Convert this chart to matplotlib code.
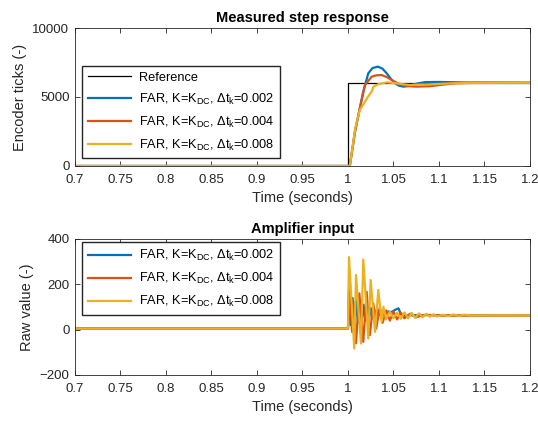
import matplotlib
matplotlib.use('Agg')
import matplotlib.pyplot as plt

plt.rcParams['font.family'] = ['Liberation Sans', 'DejaVu Sans']
plt.rcParams['mathtext.fontset'] = 'custom'
plt.rcParams['mathtext.rm'] = 'Liberation Sans'
plt.rcParams['mathtext.it'] = 'Liberation Sans:italic'

# colours (MATLAB defaults)
c_blue = '#0072BD'
c_red = '#D95319'
c_yel = '#EDB120'
c_ax = '#262626'

# ---- measured step response (encoder ticks) ----
t_ref = [0.7, 1.0, 1.0, 1.2]
v_ref = [0, 0, 6000, 6000]

t_s1 = [0.7, 1.002, 1.0077, 1.013, 1.0168, 1.0223, 1.027, 1.033, 1.038, 1.0425,
        1.047, 1.0516, 1.056, 1.061, 1.066, 1.0715, 1.078, 1.085, 1.1, 1.115,
        1.13, 1.2]
v_s1 = [0, 0, 2490, 4180, 5390, 6715, 7100, 7200, 7050, 6715,
        6330, 6000, 5820, 5750, 5790, 5900, 6000, 6080, 6090, 6070,
        6050, 6030]

t_s2 = [0.7, 1.002, 1.0077, 1.013, 1.0187, 1.026, 1.031, 1.037, 1.043, 1.048,
        1.054, 1.059, 1.067, 1.0755, 1.09, 1.105, 1.119, 1.14, 1.2]
v_s2 = [0, 0, 2490, 4180, 5870, 6470, 6570, 6590, 6430, 6230,
        6020, 5870, 5780, 5750, 5780, 5900, 6000, 6030, 6030]

t_s3 = [0.7, 1.002, 1.008, 1.013, 1.0187, 1.022, 1.026, 1.028, 1.033, 1.0425,
        1.052, 1.06, 1.068, 1.08, 1.09, 1.11, 1.13, 1.2]
v_s3 = [0, 0, 2750, 4060, 4660, 5020, 5390, 5750, 5920, 6060,
        6000, 5930, 5870, 5900, 5920, 5980, 6020, 6030]

# ---- amplifier input (raw value) ----
t_a1 = [0.7, 1.0, 1.001, 1.003, 1.005, 1.007, 1.009, 1.011, 1.013, 1.015,
        1.017, 1.019, 1.021, 1.023, 1.025, 1.027, 1.029, 1.031, 1.033, 1.036,
        1.040, 1.044, 1.048, 1.052, 1.0555, 1.058, 1.062, 1.07, 1.2]
v_a1 = [5, 5, 180, 20, 140, 20, 130, 30, 120, 35,
        110, 40, 100, 45, 95, 50, 90, 55, 85, 60,
        70, 80, 78, 88, 94, 70, 60, 64, 63]

t_a2 = [0.7, 1.0, 1.002, 1.0045, 1.0065, 1.0088, 1.0125, 1.0168, 1.0205, 1.024,
        1.0278, 1.031, 1.035, 1.038, 1.042, 1.046, 1.050, 1.054, 1.058, 1.062,
        1.068, 1.075, 1.085, 1.1, 1.2]
v_a2 = [5, 5, 150, -10, 120, -60, 160, -54, 167, -24,
        116, 5, 100, 30, 85, 40, 80, 45, 75, 50,
        70, 55, 66, 62, 63]

t_a3 = [0.7, 1.0, 1.0011, 1.0069, 1.0088, 1.0143, 1.0168, 1.0223, 1.0249, 1.0297,
        1.0333, 1.037, 1.039, 1.042, 1.046, 1.050, 1.054, 1.058, 1.062, 1.066,
        1.070, 1.074, 1.078, 1.082, 1.086, 1.090, 1.094, 1.098, 1.104, 1.110,
        1.116, 1.122, 1.128, 1.135, 1.2]
v_a3 = [5, 5, 320, -83, 241, -61, 310, -39, 219, -10,
        175, 35, 101, 45, 80, 50, 75, 48, 76, 50,
        74, 52, 72, 55, 70, 57, 68, 58, 66, 60,
        67, 61, 66, 63, 63]

labels = [r'FAR, K=K$_{\rm DC}$, $\Delta$t$_{\rm k}$=0.002',
          r'FAR, K=K$_{\rm DC}$, $\Delta$t$_{\rm k}$=0.004',
          r'FAR, K=K$_{\rm DC}$, $\Delta$t$_{\rm k}$=0.008']

xticks = [0.7, 0.75, 0.8, 0.85, 0.9, 0.95, 1.0, 1.05, 1.1, 1.15, 1.2]
xticklabels = ['0.7', '0.75', '0.8', '0.85', '0.9', '0.95', '1', '1.05', '1.1', '1.15', '1.2']

fig = plt.figure(figsize=(5.38, 4.23), dpi=100)
ax1 = fig.add_axes([0.1394, 0.6076, 0.8457, 0.3262])
ax2 = fig.add_axes([0.1394, 0.1135, 0.8457, 0.3215])


def style(ax):
    ax.set_xlim(0.7, 1.2)
    ax.set_xticks(xticks)
    ax.set_xticklabels(xticklabels)
    ax.tick_params(direction='in', top=True, right=True, length=3.5, width=0.6,
                   labelsize=9.5, colors=c_ax)
    ax.tick_params(axis='x', pad=6)
    ax.tick_params(axis='y', pad=4)
    for s in ax.spines.values():
        s.set_color(c_ax)
        s.set_linewidth(0.6)
    ax.set_xlabel('Time (seconds)', fontsize=10.5, color=c_ax, labelpad=3.5)


leg_kw = dict(fontsize=9.2, handlelength=3.4, labelspacing=0.62, borderpad=0.45,
              handletextpad=0.6, fancybox=False, edgecolor=c_ax, framealpha=1,
              borderaxespad=0)

ax1.plot(t_ref, v_ref, color='black', lw=0.9, label='Reference')
ax1.plot(t_s1, v_s1, color=c_blue, lw=1.6, label=labels[0])
ax1.plot(t_s2, v_s2, color=c_red, lw=1.6, label=labels[1])
ax1.plot(t_s3, v_s3, color=c_yel, lw=1.6, label=labels[2])
ax1.set_ylim(0, 10000)
ax1.set_yticks([0, 5000, 10000])
style(ax1)
ax1.set_ylabel('Encoder ticks (-)', fontsize=10.5, color=c_ax)
ax1.set_title('Measured step response', fontsize=10.5, fontweight='bold', pad=4)
ax1.legend(loc='lower left', bbox_to_anchor=(0.015, 0.055), **leg_kw)

ax2.plot(t_a1, v_a1, color=c_blue, lw=1.6, label=labels[0])
ax2.plot(t_a2, v_a2, color=c_red, lw=1.6, label=labels[1])
ax2.plot(t_a3, v_a3, color=c_yel, lw=1.6, label=labels[2])
ax2.set_ylim(-200, 400)
ax2.set_yticks([-200, 0, 200, 400])
style(ax2)
ax2.set_ylabel('Raw value (-)', fontsize=10.5, color=c_ax)
ax2.set_title('Amplifier input', fontsize=10.5, fontweight='bold', pad=4)
ax2.legend(loc='upper left', bbox_to_anchor=(0.015, 0.975), **leg_kw)

fig.savefig('out.png', dpi=100)
